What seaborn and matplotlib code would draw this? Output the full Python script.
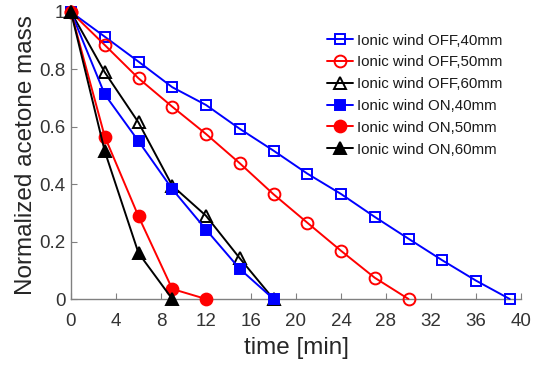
import matplotlib
matplotlib.use("Agg")
import matplotlib.pyplot as plt
import seaborn as sns
import pandas as pd

# ---- data ----
t_off40 = [0, 3, 6, 9, 12, 15, 18, 21, 24, 27, 30, 33, 36, 39]
m_off40 = [1.0, 0.914, 0.827, 0.738, 0.676, 0.593, 0.517, 0.437, 0.366, 0.286, 0.21, 0.135, 0.064, 0.0]
t_off50 = [0, 3, 6, 9, 12, 15, 18, 21, 24, 27, 30]
m_off50 = [1.0, 0.885, 0.769, 0.67, 0.575, 0.473, 0.365, 0.266, 0.168, 0.074, 0.0]
t_off60 = [0, 3, 6, 9, 12, 15, 18]
m_off60 = [1.0, 0.79, 0.615, 0.395, 0.29, 0.142, 0.0]
t_on40 = [0, 3, 6, 9, 12, 15, 18]
m_on40 = [1.0, 0.713, 0.55, 0.383, 0.242, 0.105, 0.0]
t_on50 = [0, 3, 6, 9, 12]
m_on50 = [1.0, 0.566, 0.288, 0.035, 0.0]
t_on60 = [0, 3, 6, 9]
m_on60 = [1.0, 0.515, 0.16, 0.0]

labels = ["Ionic wind OFF,40mm", "Ionic wind OFF,50mm", "Ionic wind OFF,60mm",
          "Ionic wind ON,40mm", "Ionic wind ON,50mm", "Ionic wind ON,60mm"]
x_ticks = [0, 4, 8, 12, 16, 20, 24, 28, 32, 36, 40]
y_ticks = [0, 0.2, 0.4, 0.6, 0.8, 1.0]
y_ticklabels = ["0", "0.2", "0.4", "0.6", "0.8", "1"]

series = [(t_off40, m_off40), (t_off50, m_off50), (t_off60, m_off60),
          (t_on40, m_on40), (t_on50, m_on50), (t_on60, m_on60)]

rows = []
for lab, (t, m) in zip(labels, series):
    for a, b in zip(t, m):
        rows.append({"time": a, "mass": b, "series": lab})
df = pd.DataFrame(rows)

styles = {
    labels[0]: dict(color="#0000ff", marker="s", ms=7.5, mfc="none"),
    labels[1]: dict(color="#ff0000", marker="o", ms=8.5, mfc="none"),
    labels[2]: dict(color="#000000", marker="^", ms=9, mfc="none"),
    labels[3]: dict(color="#0000ff", marker="s", ms=7, mfc="#0000ff"),
    labels[4]: dict(color="#ff0000", marker="o", ms=8.5, mfc="#ff0000"),
    labels[5]: dict(color="#000000", marker="^", ms=9, mfc="#000000"),
}

sns.set_style("ticks")
plt.rcParams["font.family"] = ["Liberation Sans", "DejaVu Sans"]

fig = plt.figure(figsize=(5.38, 3.66), dpi=100)
ax = fig.add_axes([71 / 538, 67 / 366, 450 / 538, (299 - 12) / 366])

for lab in labels:
    st = styles[lab]
    sub = df[df["series"] == lab]
    sns.lineplot(data=sub, x="time", y="mass", ax=ax, color=st["color"],
                 marker=st["marker"], markersize=st["ms"],
                 markerfacecolor=st["mfc"], markeredgecolor=st["color"],
                 markeredgewidth=1.4, linewidth=1.4, label=lab,
                 clip_on=False, zorder=3, sort=False)

ax.set_xlim(0, 40)
ax.set_ylim(0, 1)
ax.set_xticks(x_ticks)
ax.set_xticklabels([str(v) for v in x_ticks])
ax.set_yticks(y_ticks)
ax.set_yticklabels(y_ticklabels)
ax.tick_params(direction="in", length=4, width=0.8, color="#808080",
               labelsize=13.5, labelcolor="#333333")
ax.tick_params(axis="x", pad=10)
ax.tick_params(axis="y", pad=4)
for s in ["top", "right"]:
    ax.spines[s].set_visible(False)
for s in ["left", "bottom"]:
    ax.spines[s].set_color("#808080")
    ax.spines[s].set_linewidth(1.0)

ax.set_xlabel("time [min]", fontsize=17.5, color="#262626", labelpad=5)
ax.set_ylabel("Normalized acetone mass", fontsize=17.5, color="#262626", labelpad=1.5)

leg = ax.legend(loc="upper left", bbox_to_anchor=(0.569, 0.925), frameon=False,
                fontsize=10.8, handlelength=1.75, handletextpad=0.25,
                labelspacing=0.52, borderaxespad=0, borderpad=0)
for txt in leg.get_texts():
    txt.set_color("#1a1a1a")

fig.savefig("out.png", dpi=100)
